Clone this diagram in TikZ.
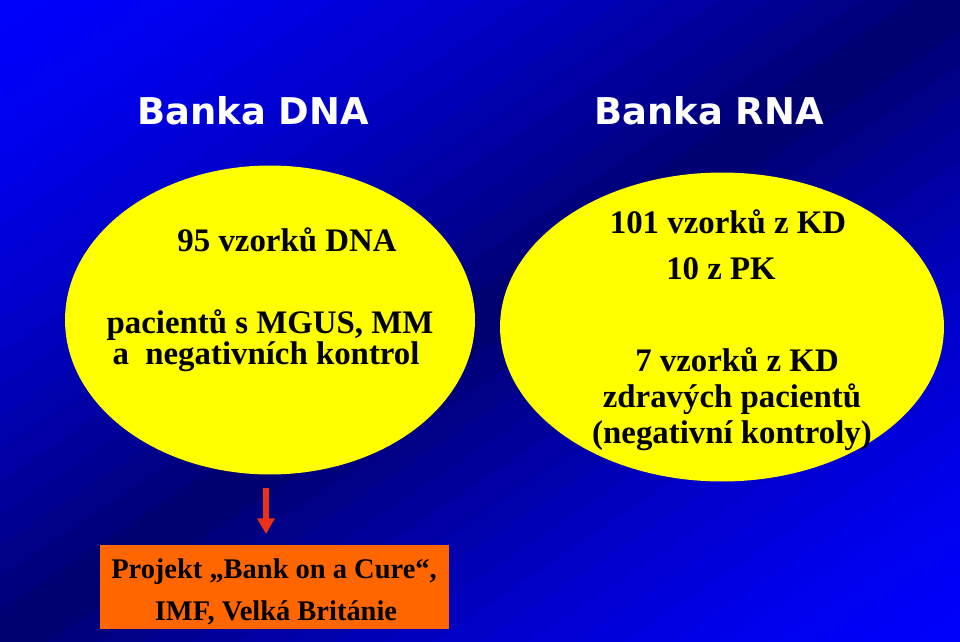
\documentclass[tikz,border=0pt]{standalone}
\usepackage{fontspec}
\setmainfont{Liberation Serif}
\newfontfamily\headfont{DejaVu Sans}
\usetikzlibrary{shapes.geometric,arrows.meta}

\definecolor{bgbright}{RGB}{0,0,252}
\definecolor{bgdark}{RGB}{0,0,110}
\definecolor{bankyellow}{RGB}{255,255,0}
\definecolor{boxorange}{RGB}{255,102,0}
\definecolor{arrowred}{RGB}{238,48,24}

\begin{document}
\begin{tikzpicture}[x=0.02cm,y=-0.02cm,
    bank/.style={ellipse, fill=bankyellow, inner sep=0pt},
    headline/.style={anchor=base, text=white, font=\headfont\bfseries\fontsize{21}{25}\selectfont},
    info/.style={anchor=base, font=\bfseries\fontsize{18.7}{22}\selectfont},
    project/.style={fill=boxorange, inner sep=0pt, minimum width=6.98cm, minimum height=1.68cm},
    projecttext/.style={anchor=base, font=\bfseries\fontsize{16.2}{20}\selectfont},
    pointer/.style={-{Triangle[length=9pt,width=9.5pt]}, line width=3.4pt, draw=arrowred}]
    \useasboundingbox (0,0) rectangle (960,642);

    % background, bands parallel to the anti-diagonal
    \begin{scope}
        \clip (0,0) rectangle (960,642);
        \foreach \i in {0,...,39}
        {
            \pgfmathsetmacro\slo{\i/20}
            \pgfmathsetmacro\shi{(\i+1)/20+0.01}
            \pgfmathsetmacro\tint{100*(1-pow(1-abs((\i+0.5)/20-1),1.5))}
            \fill[bgbright!\tint!bgdark] (960*\slo,0) -- (960*\shi,0) -- (0,642*\shi) -- (0,642*\slo) -- cycle;
        }
    \end{scope}

    % headlines
    \node[headline] (dnatitle) at (253,125) {Banka DNA};
    \node[headline] (rnatitle) at (709,125) {Banka RNA};

    % the two banks
    \node[bank, minimum width=8.2cm, minimum height=6.18cm] (dna) at (270,320) {};
    \node[bank, minimum width=8.88cm, minimum height=6.18cm] (rna) at (722,327) {};

    \node[info] (dnacount) at (287,251) {95 vzorků DNA};
    \node[info] (dnaline1) at (270,333) {pacientů s MGUS, MM};
    \node[info] (dnaline2) at (266,364) {a\ \ negativních kontrol};

    \node[info] (rnacount) at (728,233) {101 vzorků z KD};
    \node[info] (rnapk) at (721,279) {10 z PK};
    \node[info] (rnaline1) at (737,371) {7 vzorků z KD};
    \node[info] (rnaline2) at (732,407) {zdravých pacientů};
    \node[info] (rnaline3) at (732,443) {(negativní kontroly)};

    % project box
    \node[project] (bankcure) at (274.5,587) {};
    \node[projecttext] (cureline1) at (274,578) {Projekt „Bank on a Cure“,};
    \node[projecttext] (cureline2) at (276,620) {IMF, Velká Británie};
    \coordinate (arrowstart) at (266,488);
    \draw[pointer, shorten >=6pt] (arrowstart) -- (arrowstart |- bankcure.north);
\end{tikzpicture}
\end{document}
